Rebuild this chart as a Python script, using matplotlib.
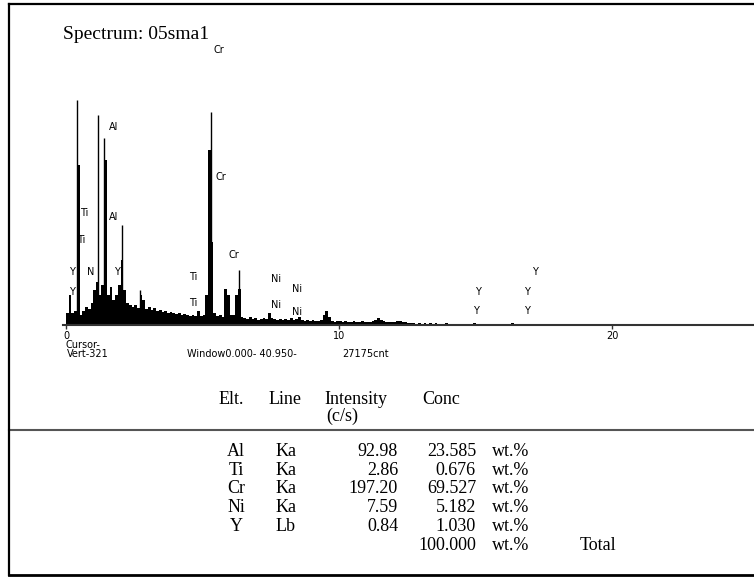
import numpy as np
import matplotlib
matplotlib.use('Agg')
import matplotlib.pyplot as plt

# ---------------- data ----------------
channel_kev = 0.1  # width of one spectrum channel (keV)
counts = [12, 30, 12, 14, 160, 10, 14, 18, 16, 22,
          35, 43, 30, 40, 165, 30, 38, 25, 30, 40,
          65, 35, 22, 20, 18, 20, 17, 30, 25, 16,
          18, 15, 17, 14, 15, 13, 14, 12, 13, 12,
          11, 12, 10, 11, 10, 9, 10, 9, 14, 9,
          10, 30, 175, 83, 12, 9, 10, 8, 36, 30,
          10, 10, 30, 36, 8, 7, 6, 8, 6, 7,
          5, 6, 7, 6, 12, 7, 6, 5, 6, 5,
          6, 5, 7, 5, 6, 8, 5, 4, 5, 4,
          5, 4, 4, 5, 10, 14, 8, 4, 3, 4,
          4, 3, 4, 3, 3, 4, 3, 3, 4, 3,
          3, 3, 4, 5, 7, 5, 4, 3, 3, 3,
          3, 4, 4, 3, 3, 2, 2, 2, 0, 2,
          0, 2, 0, 2, 0, 2, 0, 0, 0, 2,
          0, 0, 0, 0, 0, 0, 0, 0, 0, 2,
          0, 0, 0, 0, 0, 0, 0, 0, 0, 0,
          0, 0, 0, 2]

# narrow peak tops (keV, counts)
peak_kev = [0.39, 1.16, 1.40, 2.05, 2.71, 5.30, 6.34]
peak_counts = [225, 210, 187, 100, 35, 213, 55]

# element markers
lab_text = ['Cr', 'Al', 'Ti', 'Ti', 'Y', 'N', 'Y', 'Al', 'Y', 'Cr', 'Cr',
            'Ti', 'Ti', 'Ni', 'Ni', 'Ni', 'Ni', 'Y', 'Y', 'Y', 'Y', 'Y']
lab_kev = [5.60, 1.73, 0.66, 0.57, 0.23, 0.90, 0.23, 1.73, 1.88, 5.67, 6.14,
           4.66, 4.66, 7.69, 8.45, 7.69, 8.45, 17.18, 15.10, 16.90, 15.00, 16.90]
lab_counts = [275, 198, 112, 85, 53, 53, 33, 108, 53, 148, 70,
              48, 22, 46, 36, 20, 13, 53, 33, 33, 14, 14]

x_ticks = [0, 10, 20]
x_ticklabels = ['0', '10', '20']

title = 'Spectrum: 05sma1'
cursor_lines = ['Cursor-', 'Vert-321']
window_text = 'Window0.000- 40.950-'
count_text = '27175cnt'

header = ['Elt.', 'Line', 'Intensity', 'Conc']
header_unit = '(c/s)'
elements = ['Al', 'Ti', 'Cr', 'Ni', 'Y']
lines_ = ['Ka', 'Ka', 'Ka', 'Ka', 'Lb']
intensity = ['92.98', '2.86', '197.20', '7.59', '0.84']
conc = ['23.585', '0.676', '69.527', '5.182', '1.030']
total_conc = '100.000'
unit = 'wt.%'
total_label = 'Total'

# ---------------- figure ----------------
W, H = 754, 578
fig = plt.figure(figsize=(W / 100, H / 100), dpi=100)
fig.patch.set_facecolor('white')

px_per_kev = 27.3
x0_px = 66.0
ax_left_px, ax_right_px, ax_base_px, ax_top_px = 63, 754, 325, 20
ax = fig.add_axes([ax_left_px / W, (H - ax_base_px) / H,
                   (ax_right_px - ax_left_px) / W, (ax_base_px - ax_top_px) / H])
ax.set_xlim((ax_left_px - x0_px) / px_per_kev, (ax_right_px - x0_px) / px_per_kev)
ax.set_ylim(0, ax_base_px - ax_top_px)
ax.patch.set_alpha(0)

edges = np.arange(len(counts) + 1) * channel_kev
ax.stairs(counts, edges, fill=True, color='black', linewidth=0)
ax.vlines(peak_kev, 0, peak_counts, colors='black', linewidth=1.0)

small = dict(family='DejaVu Sans', fontsize=7, color='black')
for t, e, c in zip(lab_text, lab_kev, lab_counts):
    ax.text(e, c, t, ha='center', va='center', **small)

for s in ['top', 'right', 'left']:
    ax.spines[s].set_visible(False)
ax.spines['bottom'].set_color('#333333')
ax.spines['bottom'].set_linewidth(1.5)
ax.set_yticks([])
ax.set_xticks(x_ticks)
ax.set_xticklabels(x_ticklabels, family='DejaVu Sans', fontsize=7)
ax.tick_params(axis='x', direction='out', length=3, width=1, pad=1.5, color='#333333')

# ---------------- overlay (page texts & frame) ----------------
ov = fig.add_axes([0, 0, 1, 1])
ov.set_xlim(0, W)
ov.set_ylim(H, 0)
ov.set_axis_off()
ov.patch.set_visible(False)

serif = dict(family='Liberation Serif', color='black')
ov.text(63, 39, title, ha='left', va='baseline', fontsize=14, **serif)

ov.text(65, 345, cursor_lines[0], ha='left', va='center', **small)
ov.text(67, 354, cursor_lines[1], ha='left', va='center', **small)
ov.text(187, 354, window_text, ha='left', va='center', **small)
ov.text(342, 354, count_text, ha='left', va='center', **small)

fs = 13
hx = [219, 269, 324, 422]
for t, x in zip(header, hx):
    ov.text(x, 404, t, ha='left', va='baseline', fontsize=fs, **serif)
ov.text(326, 421, header_unit, ha='left', va='baseline', fontsize=fs, **serif)

row_y = [456, 474.7, 493.3, 512, 531]
for i, y in enumerate(row_y):
    ov.text(236, y, elements[i], ha='center', va='baseline', fontsize=fs, **serif)
    ov.text(276, y, lines_[i], ha='left', va='baseline', fontsize=fs, **serif)
    ov.text(398, y, intensity[i], ha='right', va='baseline', fontsize=fs, **serif)
    ov.text(476, y, conc[i], ha='right', va='baseline', fontsize=fs, **serif)
    ov.text(492, y, unit, ha='left', va='baseline', fontsize=fs, **serif)
ov.text(476, 550, total_conc, ha='right', va='baseline', fontsize=fs, **serif)
ov.text(492, 550, unit, ha='left', va='baseline', fontsize=fs, **serif)
ov.text(580, 550, total_label, ha='left', va='baseline', fontsize=fs, **serif)

# separator and frame
ov.plot([9, W + 5], [430, 430], color='#555555', linewidth=1.5, clip_on=False)
ov.plot([9, W + 5], [4, 4], color='black', linewidth=1.6, clip_on=False)
ov.plot([9, W + 5], [575, 575], color='black', linewidth=2.0, clip_on=False)
ov.plot([9, 9], [4, 575], color='black', linewidth=1.6, clip_on=False)

fig.savefig('out.png', dpi=100, facecolor='white')
